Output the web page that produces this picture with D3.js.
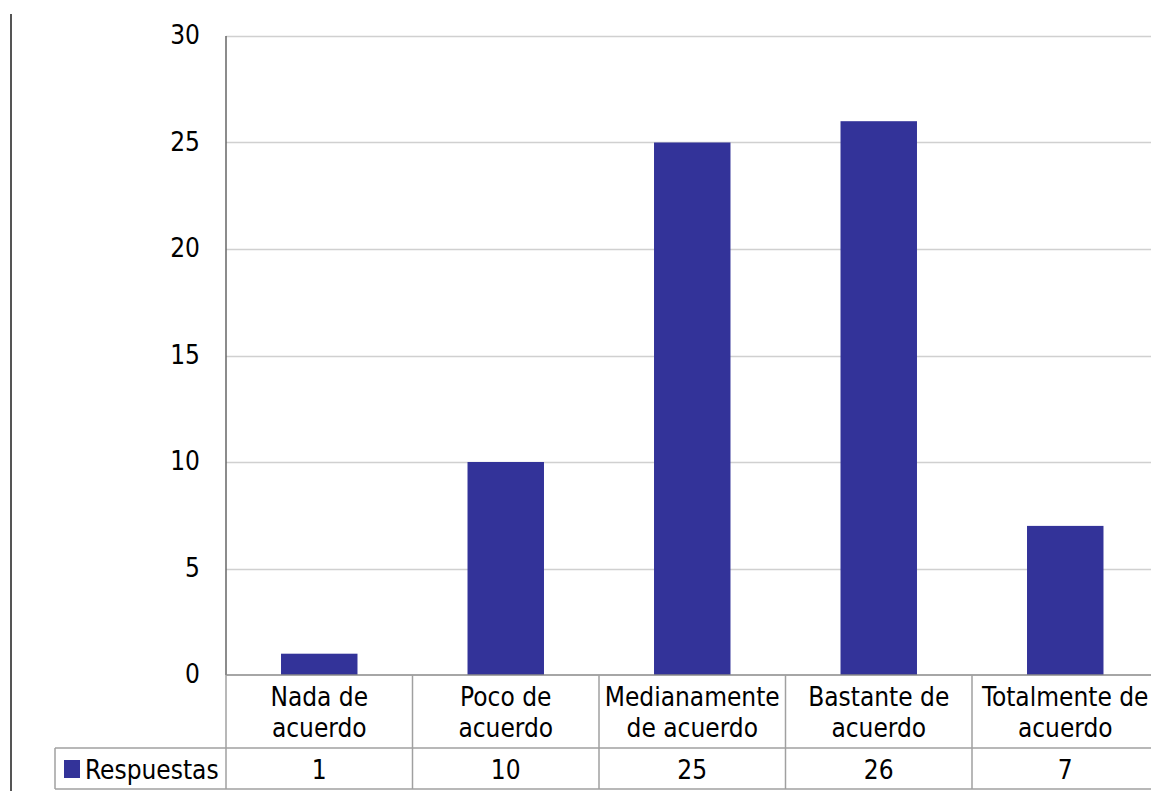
<!DOCTYPE html>
<html><head><meta charset="utf-8">
<script src="https://cdn.jsdelivr.net/npm/d3@7"></script>
<style>html,body{margin:0;padding:0;background:#fff;overflow:hidden}</style>
</head><body>
<script>
const categories = [["Nada de","acuerdo"],["Poco de","acuerdo"],["Medianamente","de acuerdo"],["Bastante de","acuerdo"],["Totalmente de","acuerdo"]];
const values = [1,10,25,26,7];
const seriesName = "Respuestas";
const yTicks = [0,5,10,15,20,25,30];

(function(){
const W = 1151, H = 791;
const font = "'DejaVu Sans Condensed', 'DejaVu Sans', sans-serif";
const fs = 26;
const svg = d3.select("body").append("svg").attr("width", W).attr("height", H);

const pLeft = 226, pRight = 1158.5, pTop = 36, pBottom = 675;
const x = d3.scaleBand().domain(d3.range(categories.length)).range([pLeft, pRight]).padding(0);
const y = d3.scaleLinear().domain([0, 30]).range([pBottom, pTop]);
const barW = x.bandwidth() * 0.41;

// outer left border
svg.append("line").attr("x1", 11).attr("x2", 11).attr("y1", 14).attr("y2", H)
  .attr("stroke", "#555").attr("stroke-width", 2);

// gridlines
svg.append("g").selectAll("line").data(yTicks.filter(d => d > 0)).join("line")
  .attr("x1", pLeft).attr("x2", W).attr("y1", d => Math.round(y(d)) + 0.5).attr("y2", d => Math.round(y(d)) + 0.5)
  .attr("stroke", "#d0d0d0").attr("stroke-width", 1.5);

// bars
svg.append("g").selectAll("rect").data(values).join("rect")
  .attr("x", (d, i) => x(i) + (x.bandwidth() - barW) / 2)
  .attr("width", barW)
  .attr("y", d => y(d))
  .attr("height", d => y(0) - y(d))
  .attr("fill", "#333399");

// y axis
const yAxis = d3.axisLeft(y).tickValues(yTicks).tickSize(0).tickPadding(26);
const gy = svg.append("g").attr("transform", `translate(${pLeft},0)`).call(yAxis);
gy.select(".domain").remove();
gy.selectAll("text").attr("font-family", font).attr("font-size", fs).attr("fill", "#000").attr("dy", "0.3em");
svg.append("line").attr("x1", pLeft).attr("x2", pLeft).attr("y1", pTop).attr("y2", pBottom)
  .attr("stroke", "#666").attr("stroke-width", 1.5);

// table
const row1 = pBottom, row2 = 748, row3 = 789;
const tg = svg.append("g");
const gridColor = "#a0a0a0";
tg.append("line").attr("x1", pLeft).attr("x2", W).attr("y1", row1).attr("y2", row1).attr("stroke", "#888").attr("stroke-width", 1.5);
tg.append("line").attr("x1", 55).attr("x2", W).attr("y1", row2).attr("y2", row2).attr("stroke", gridColor).attr("stroke-width", 1.5);
tg.append("line").attr("x1", 55).attr("x2", W).attr("y1", row3).attr("y2", row3).attr("stroke", gridColor).attr("stroke-width", 1.5);
tg.append("line").attr("x1", 55).attr("x2", 55).attr("y1", row2).attr("y2", row3).attr("stroke", gridColor).attr("stroke-width", 1.5);
tg.selectAll("line.v").data(d3.range(categories.length)).join("line").attr("class", "v")
  .attr("x1", i => x(i)).attr("x2", i => x(i)).attr("y1", row1).attr("y2", row3)
  .attr("stroke", gridColor).attr("stroke-width", 1.5);

// category labels
const lab = tg.selectAll("text.cat").data(categories).join("text").attr("class", "cat")
  .attr("font-family", font).attr("font-size", fs).attr("fill", "#000").attr("text-anchor", "middle");
lab.each(function(d, i) {
  const t = d3.select(this);
  d.forEach((line, j) => {
    t.append("tspan").attr("x", x(i) + x.bandwidth() / 2).attr("y", 706 + j * 31).text(line);
  });
});

// values row
tg.selectAll("text.val").data(values).join("text").attr("class", "val")
  .attr("x", (d, i) => x(i) + x.bandwidth() / 2).attr("y", 779)
  .attr("font-family", font).attr("font-size", fs).attr("fill", "#000").attr("text-anchor", "middle")
  .text(d => d);

// legend key
tg.append("rect").attr("x", 64).attr("y", 760).attr("width", 16).attr("height", 18).attr("fill", "#333399");
tg.append("text").attr("x", 85).attr("y", 779).attr("font-family", font).attr("font-size", fs).attr("fill", "#000").text(seriesName);
})();
</script>
</body></html>
